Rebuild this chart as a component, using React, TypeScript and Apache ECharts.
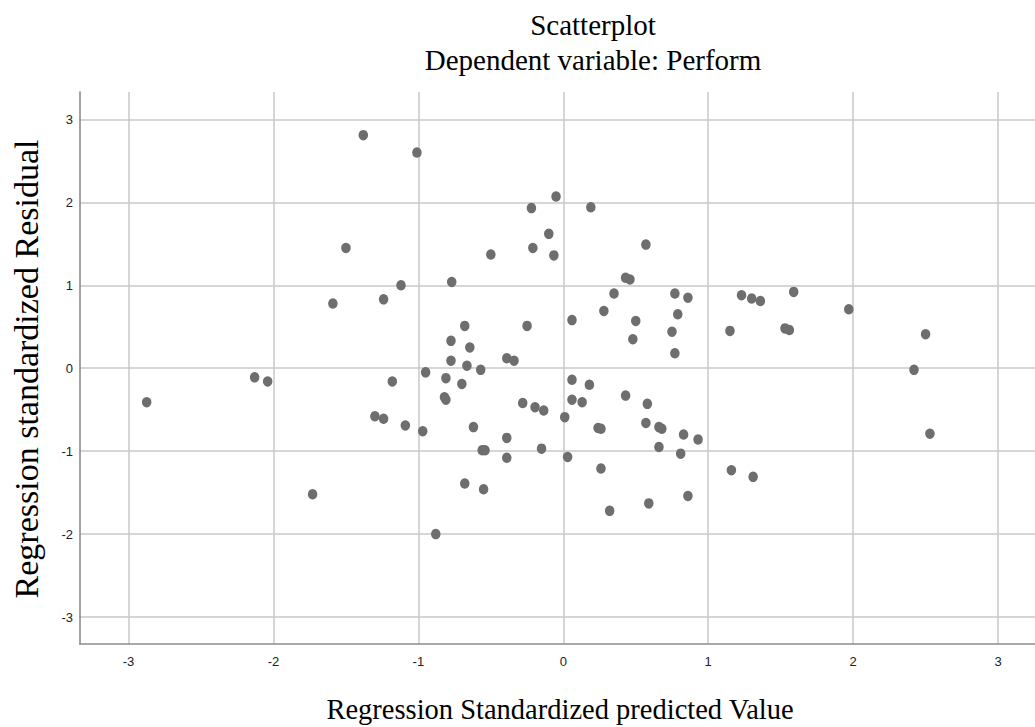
import React, { useEffect, useRef } from "react";
import * as echarts from "echarts";

const predicted: number[] = [
  -2.875, -2.13, -2.04, -1.73, -1.59, -1.5, -1.38, -1.3, -1.24, -1.24,
  -1.18, -1.12, -1.09, -1.01, -0.97, -0.95, -0.88, -0.82, -0.81, -0.81,
  -0.775, -0.775, -0.77, -0.7, -0.68, -0.68, -0.665, -0.645, -0.62, -0.57,
  -0.56, -0.54, -0.55, -0.5, -0.39, -0.39, -0.39, -0.34, -0.28, -0.25,
  -0.22, -0.21, -0.195, -0.15, -0.135, -0.1, -0.065, -0.05, 0.01, 0.03,
  0.06, 0.06, 0.06, 0.13, 0.18, 0.19, 0.24, 0.26, 0.26, 0.28,
  0.32, 0.35, 0.43, 0.43, 0.46, 0.48, 0.5, 0.57, 0.57, 0.58,
  0.59, 0.66, 0.66, 0.68, 0.75, 0.77, 0.77, 0.79, 0.81, 0.83,
  0.86, 0.86, 0.93, 1.15, 1.16, 1.23, 1.3, 1.31, 1.36, 1.53,
  1.56, 1.59, 1.97, 2.42, 2.5, 2.53,
];

const residual: number[] = [
  -0.41, -0.11, -0.16, -1.52, 0.78, 1.45, 2.81, -0.58, -0.61, 0.83,
  -0.16, 1.0, -0.69, 2.6, -0.76, -0.05, -2.0, -0.35, -0.38, -0.12,
  0.33, 0.09, 1.04, -0.19, 0.51, -1.39, 0.03, 0.25, -0.71, -0.02,
  -0.99, -0.99, -1.46, 1.37, 0.12, -0.84, -1.08, 0.09, -0.42, 0.51,
  1.93, 1.45, -0.47, -0.97, -0.51, 1.62, 1.36, 2.07, -0.59, -1.07,
  0.58, -0.14, -0.38, -0.41, -0.2, 1.94, -0.72, -0.73, -1.21, 0.69,
  -1.72, 0.9, 1.09, -0.33, 1.07, 0.35, 0.57, 1.49, -0.66, -0.43,
  -1.63, -0.95, -0.71, -0.73, 0.44, 0.9, 0.18, 0.65, -1.03, -0.8,
  0.85, -1.54, -0.86, 0.45, -1.23, 0.88, 0.84, -1.31, 0.81, 0.48,
  0.46, 0.92, 0.71, -0.02, 0.41, -0.79,
];

const tickValues: number[] = [-3, -2, -1, 0, 1, 2, 3];

const titleLines: string[] = ["Scatterplot", "Dependent variable: Perform"];
const xTitle = "Regression Standardized predicted Value";
const yTitle = "Regression standardized Residual";

export default function App() {
  const ref = useRef<HTMLDivElement>(null);

  useEffect(() => {
    if (!ref.current) return;
    const chart = echarts.init(ref.current, undefined, { renderer: "svg" });
    const points = predicted.map((x, i) => [x, residual[i]]);
    const serif = '"Liberation Serif", "Times New Roman", serif';
    const sans = '"Liberation Sans", Arial, sans-serif';

    const axisCommon = {
      type: "value" as const,
      axisLine: { show: true, onZero: false, lineStyle: { color: "#8c8c8c", width: 1.6 } },
      axisTick: { show: false, customValues: tickValues },
      splitLine: { show: true, lineStyle: { color: "#c9c9c9", width: 1.5 } },
    };

    chart.setOption({
      animation: false,
      backgroundColor: "#ffffff",
      grid: { left: 80, top: 92, right: 0, bottom: 83, containLabel: false },
      xAxis: {
        ...axisCommon,
        min: -3.335,
        max: 3.255,
        axisLabel: {
          customValues: tickValues,
          margin: 11,
          fontFamily: sans,
          fontSize: 13,
          color: "#222222",
        },
      },
      yAxis: {
        ...axisCommon,
        min: -3.325,
        max: 3.33,
        axisLabel: {
          customValues: tickValues,
          margin: 7,
          fontFamily: sans,
          fontSize: 13,
          color: "#222222",
        },
      },
      series: [
        {
          type: "scatter",
          data: points,
          symbol: "circle",
          symbolSize: [9.5, 10.5],
          itemStyle: { color: "#6e6e6e", opacity: 1 },
        },
      ],
      graphic: [
        {
          type: "text",
          x: 593,
          y: 25,
          style: { text: titleLines[0], font: `29px ${serif}`, fill: "#000", textAlign: "center", textVerticalAlign: "middle" },
        },
        {
          type: "text",
          x: 593,
          y: 60,
          style: { text: titleLines[1], font: `29px ${serif}`, fill: "#000", textAlign: "center", textVerticalAlign: "middle" },
        },
        {
          type: "text",
          x: 560,
          y: 709,
          style: { text: xTitle, font: `28.5px ${serif}`, fill: "#000", textAlign: "center", textVerticalAlign: "middle" },
        },
        {
          type: "text",
          x: 26,
          y: 369,
          rotation: Math.PI / 2,
          style: { text: yTitle, font: `34px ${serif}`, fill: "#000", textAlign: "center", textVerticalAlign: "middle" },
        },
      ],
    });
    return () => chart.dispose();
  }, []);

  return (
    <div
      ref={ref}
      style={{ position: "absolute", left: 0, top: 0, width: 1035, height: 727 }}
    />
  );
}
